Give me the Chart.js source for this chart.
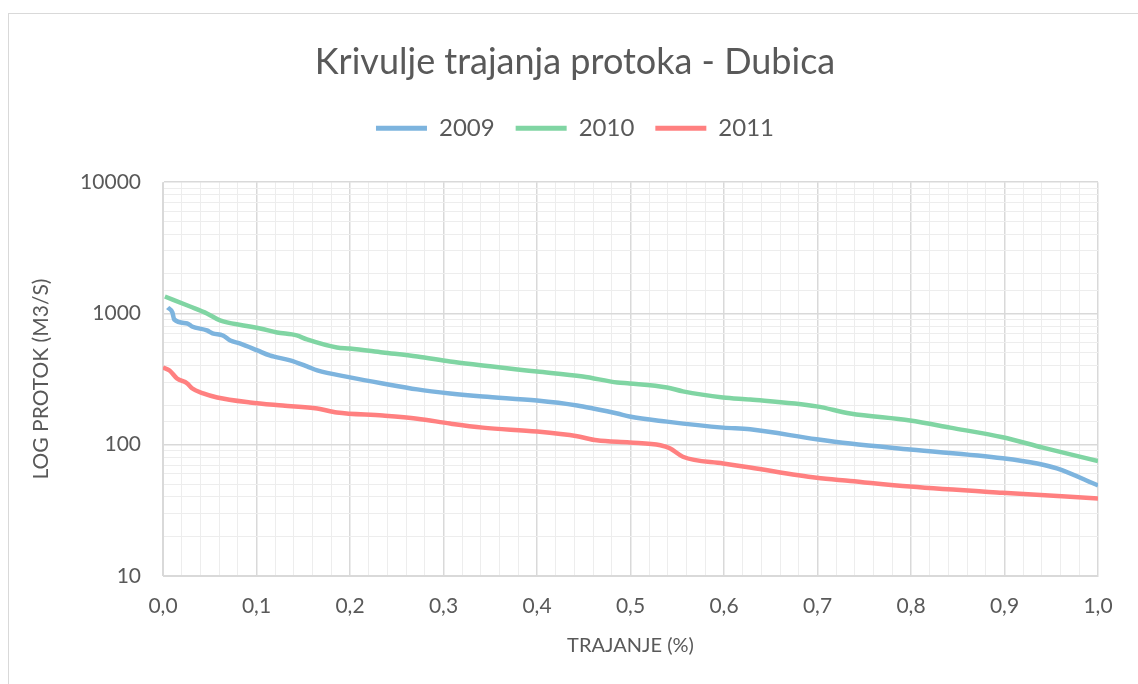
<!DOCTYPE html>
<html>
<head>
<meta charset="utf-8">
<script src="https://cdn.jsdelivr.net/npm/chart.js@4.4.1/dist/chart.umd.min.js"></script>
<style>
  html, body { margin: 0; padding: 0; background: #fff; }
  #frame { position: absolute; left: 8px; top: 13px; width: 1140px; height: 700px; border: 1px solid #d9d9d9; }
  #wrap { position: absolute; left: 0; top: 0; width: 1138px; height: 684px; }
</style>
</head>
<body>
<div id="frame"></div>
<div id="wrap"><canvas id="chart" width="1138" height="684"></canvas></div>
<script>
// Duration (fraction of year) and flow (m3/s) per year
const dur2009  = [0.005, 0.010, 0.012, 0.026, 0.031, 0.047, 0.053, 0.064, 0.072, 0.082, 0.101, 0.114, 0.136, 0.154, 0.165, 0.200, 0.235, 0.272, 0.307, 0.342, 0.400, 0.443, 0.460, 0.486, 0.499, 0.539, 0.599, 0.628, 0.699, 0.735, 0.799, 0.898, 0.935, 0.956, 1.000];
const flow2009 = [1110, 1018, 900, 839, 796, 743, 705, 680, 622, 591, 523, 479, 439, 395, 368, 326, 293, 264, 246, 233, 217, 199, 189, 173, 164, 150, 135, 131, 110, 102, 92, 79, 72, 66, 49];

const dur2010  = [0.002, 0.029, 0.047, 0.061, 0.086, 0.104, 0.122, 0.143, 0.154, 0.186, 0.200, 0.235, 0.272, 0.307, 0.342, 0.379, 0.400, 0.449, 0.486, 0.499, 0.539, 0.556, 0.599, 0.628, 0.699, 0.735, 0.799, 0.842, 0.898, 0.941, 1.000];
const flow2010 = [1347, 1130, 1000, 885, 810, 769, 717, 680, 634, 551, 541, 505, 470, 431, 402, 374, 361, 331, 298, 293, 273, 255, 229, 221, 196, 173, 153, 135, 114, 95, 75];

const dur2011  = [0.000, 0.007, 0.015, 0.026, 0.031, 0.043, 0.058, 0.093, 0.128, 0.165, 0.186, 0.235, 0.272, 0.307, 0.342, 0.400, 0.443, 0.464, 0.499, 0.532, 0.542, 0.556, 0.599, 0.628, 0.699, 0.735, 0.799, 0.898, 1.000];
const flow2011 = [388, 368, 320, 293, 269, 246, 229, 210, 199, 189, 176, 167, 158, 145, 135, 126, 116, 108, 104, 99, 94, 81, 72, 67, 56, 53, 48, 43, 39];

const years = ['2009', '2010', '2011'];
const colors = ['#7db4de', '#80d5a3', '#ff8080'];
const yTicks = [10, 100, 1000, 10000];

const textColor = '#595959';
const font = 'Lato, "Open Sans", sans-serif';

function points(xs, ys) {
  return xs.map((x, i) => ({ x: x, y: ys[i] }));
}

const series = [points(dur2009, flow2009), points(dur2010, flow2010), points(dur2011, flow2011)];

const isMajorX = v => Math.abs(v * 10 - Math.round(v * 10)) < 1e-6;

// extra room between the legend and the plot
const legendGap = {
  id: 'legendGap',
  beforeInit(chart) {
    const fit = chart.legend.fit;
    chart.legend.fit = function () {
      fit.bind(chart.legend)();
      this.height += 32;
    };
  }
};

new Chart(document.getElementById('chart'), {
  type: 'line',
  data: {
    datasets: years.map((y, i) => ({
      label: y,
      data: series[i],
      borderColor: colors[i],
      backgroundColor: colors[i],
      borderWidth: 4.5,
      pointRadius: 0,
      cubicInterpolationMode: 'monotone',
      fill: false
    }))
  },
  options: {
    responsive: false,
    animation: false,
    layout: { padding: { left: 52, right: 40, top: 0, bottom: 0 } },
    plugins: {
      title: {
        display: true,
        text: 'Krivulje trajanja protoka - Dubica',
        color: textColor,
        font: { family: font, size: 36, weight: 'normal' },
        padding: { top: 41, bottom: 11 }
      },
      legend: {
        position: 'top',
        labels: {
          color: textColor,
          font: { family: font, size: 24 },
          boxWidth: 51,
          boxHeight: 5,
          padding: 21,
          generateLabels: chart => Chart.defaults.plugins.legend.labels.generateLabels(chart)
            .map(l => Object.assign(l, { lineWidth: 0, fillStyle: l.strokeStyle }))
        }
      },
      tooltip: { enabled: false }
    },
    scales: {
      x: {
        type: 'linear',
        min: 0,
        max: 1,
        afterFit: s => { s.height = 108; },
        border: { color: '#d9d9d9' },
        grid: {
          drawTicks: false,
          color: c => isMajorX(c.tick.value) ? '#d9d9d9' : '#ededed',
          lineWidth: c => isMajorX(c.tick.value) ? 1.5 : 1
        },
        ticks: {
          stepSize: 0.02,
          autoSkip: false,
          maxRotation: 0,
          padding: 18,
          color: textColor,
          font: { family: font, size: 21 },
          callback: v => isMajorX(v) ? v.toFixed(1).replace('.', ',') : ''
        },
        title: {
          display: true,
          text: 'TRAJANJE (%)',
          color: textColor,
          font: { family: font, size: 20 },
          padding: { top: 0, bottom: 26 }
        }
      },
      y: {
        type: 'logarithmic',
        min: 10,
        max: 10000,
        afterFit: s => { s.width = 111; },
        border: { color: '#d9d9d9' },
        grid: {
          drawTicks: false,
          color: c => yTicks.includes(c.tick.value) ? '#d9d9d9' : '#ededed',
          lineWidth: c => yTicks.includes(c.tick.value) ? 1.5 : 1
        },
        ticks: {
          autoSkip: false,
          padding: 22,
          color: textColor,
          font: { family: font, size: 21 },
          callback: v => yTicks.includes(v) ? String(v) : ''
        },
        title: {
          display: true,
          text: 'LOG PROTOK (M3/S)',
          color: textColor,
          font: { family: font, size: 21 },
          padding: { top: -23.6, bottom: 0 }
        }
      }
    }
  },
  plugins: [legendGap]
});
</script>
</body>
</html>
